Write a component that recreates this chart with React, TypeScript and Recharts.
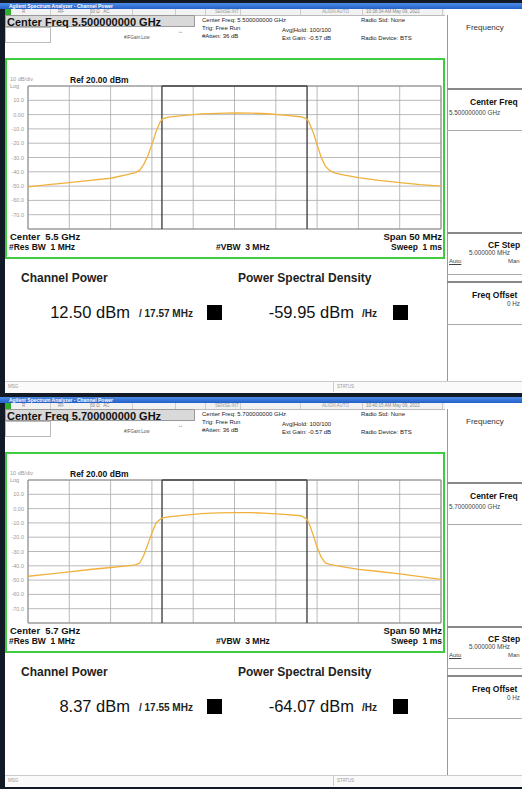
import React from 'react';
import { LineChart, Line, XAxis, YAxis, CartesianGrid, ReferenceLine, ReferenceArea } from 'recharts';

// frequency offset from center, MHz (span 50 MHz)
const freqOffsetMHz = [-25, -22.5, -20, -17.5, -15, -13, -12, -11.5, -11, -10.5, -10, -9.5, -9, -8.7, -8, -6, -4, -2, 0, 2, 4, 6, 8, 8.7, 9, 9.5, 10, 10.5, 11, 11.5, 12, 13, 15, 17.5, 20, 22.5, 25];

// trace levels, dBm
const trace5500 = [-50.5, -49, -47.5, -46, -44.5, -42, -40.5, -39, -35, -29, -21, -12, -5, -3, -1.8, -0.5, 0.5, 0.8, 1.2, 1.0, 0.6, -0.3, -1.5, -2.8, -5, -12, -21, -30, -36, -39, -40.5, -42, -44, -46, -47.5, -49, -50];
const trace5700 = [-47.3, -45.8, -44.2, -42.6, -41.2, -40, -39.3, -38.2, -33, -25, -17, -10, -7.5, -6.5, -5.8, -4.5, -3.5, -3, -2.8, -2.8, -3.3, -4, -5, -7, -10, -18, -27, -34, -38, -39, -39.6, -40.6, -42.5, -44, -45.6, -47.5, -49.5];

const freqTicks = [-25, -20, -15, -10, -5, 0, 5, 10, 15, 20, 25];
const levelTicks = [20, 10, 0, -10, -20, -30, -40, -50, -60, -70, -80];
const levelLabels = ['', '10.0', '0.00', '-10.0', '-20.0', '-30.0', '-40.0', '-50.0', '-60.0', '-70.0', ''];

const centerFreqs = ['5.500000000', '5.700000000'];
const centerShort = ['5.5 GHz', '5.7 GHz'];
const clockTimes = ['10:38:34 AM May 09, 2022', '10:40:15 AM May 09, 2022'];
const channelPower = ['12.50', '8.37'];
const channelBw = [17.57, 17.55];
const psdValues = ['-59.95', '-64.07'];

const FONT = '"Liberation Sans", Arial, sans-serif';

const T = ({ x, y, size, children, bold, color, right, w, style }: any) => (
  <div
    style={{
      position: 'absolute',
      left: right ? undefined : x,
      right: right !== undefined ? right : undefined,
      top: y,
      width: w,
      fontSize: size,
      fontWeight: bold ? 'bold' : 'normal',
      color: color || '#111',
      whiteSpace: 'nowrap',
      lineHeight: 1,
      ...style,
    }}
  >
    {children}
  </div>
);

const LevelTick = (props: any) => {
  const { x, y, payload } = props;
  const label = levelLabels[levelTicks.indexOf(payload.value)];
  if (!label) return <g />;
  return (
    <text x={x} y={y} dy={2} textAnchor="end" fontSize={5.5} fill="#9a9a9a" fontFamily={FONT}>
      {label}
    </text>
  );
};

function Screen({ idx, top, trace }: { idx: number; top: number; trace: number[] }) {
  const data = freqOffsetMHz.map((f, i) => ({ f, level: trace[i] }));
  const half = channelBw[idx] / 2;
  return (
    <div style={{ position: 'absolute', left: 0, top, width: 522, height: 394, overflow: 'hidden' }}>
      {/* title bar */}
      <div style={{ position: 'absolute', left: 0, top: 3, width: 522, height: 6, background: 'linear-gradient(#4d8ce6, #2260c9)' }} />
      <T x={9} y={3.5} size={5} bold color="#fff">Agilent Spectrum Analyzer - Channel Power</T>
      {/* main white area */}
      <div style={{ position: 'absolute', left: 5, top: 9, width: 517, height: 383, background: '#fff' }} />
      {/* status row */}
      <div style={{ position: 'absolute', left: 5, top: 9, width: 440, height: 6, background: '#f2f2f2', borderBottom: '1px solid #bbb' }} />
      <div style={{ position: 'absolute', left: 5, top: 9, width: 6, height: 6, background: '#2fae2f' }} />
      <T x={22} y={10} size={4.5} color="#888">R</T>
      <T x={58} y={10} size={4.5} color="#888">RF</T>
      <T x={90} y={10} size={4.5} color="#888">50 Ω&nbsp;&nbsp; AC</T>
      <T x={215} y={10} size={4.5} color="#999">SENSE:INT</T>
      <T x={322} y={10} size={4.5} color="#999">ALIGN AUTO</T>
      <T x={366} y={10} size={4.5} color="#888">{clockTimes[idx]}</T>
      {[50, 90, 132, 175, 205, 240, 300, 362, 442].map((sx) => (
        <div key={sx} style={{ position: 'absolute', left: sx, top: 9, width: 1, height: 6, background: '#ccc' }} />
      ))}
      {/* center freq box */}
      <div style={{ position: 'absolute', left: 5, top: 15, width: 190, height: 12, background: '#d9d9d9', border: '1px solid #999', boxSizing: 'border-box' }} />
      <T x={7} y={16.5} size={11} bold>{'Center Freq ' + centerFreqs[idx] + ' GHz'}</T>
      <div style={{ position: 'absolute', left: 5, top: 27, width: 46, height: 16, border: '1px solid #bbb', boxSizing: 'border-box' }} />
      <T x={124} y={36} size={4.5} color="#555">#IFGain:Low</T>
      <T x={178} y={29} size={5} color="#555">↔</T>
      <T x={202} y={17} size={6} color="#222">{'Center Freq: ' + centerFreqs[idx] + ' GHz'}</T>
      <T x={202} y={25} size={6} color="#222">Trig: Free Run</T>
      <T x={202} y={33} size={6} color="#222">#Atten: 36 dB</T>
      <T x={282} y={27} size={6} color="#222">Avg|Hold: 100/100</T>
      <T x={282} y={35} size={6} color="#222">Ext Gain: -0.57 dB</T>
      <T x={361} y={17} size={6} color="#222">Radio Std: None</T>
      <T x={361} y={35} size={6} color="#222">Radio Device: BTS</T>

      {/* right soft-key panel */}
      <div style={{ position: 'absolute', left: 447, top: 15, width: 80, height: 366, borderLeft: '1px solid #999', borderBottom: '1px solid #999' }} />
      <T x={466} y={24} size={8} color="#333">Frequency</T>
      <div style={{ position: 'absolute', left: 447, top: 88, width: 80, height: 40, borderTop: '2px solid #888', borderBottom: '1px solid #aaa' }} />
      <T x={470} y={98} size={8.5} bold>Center Freq</T>
      <T x={449} y={110} size={6.3} color="#444">{centerFreqs[idx] + ' GHz'}</T>
      <div style={{ position: 'absolute', left: 447, top: 232, width: 80, height: 40, borderTop: '2px solid #888', borderBottom: '1px solid #aaa' }} />
      <T x={488} y={241} size={8.5} bold>CF Step</T>
      <T x={469} y={250} size={6.3} color="#444">5.000000 MHz</T>
      <T x={449} y={258} size={6} color="#444" style={{ textDecoration: 'underline' }}>Auto</T>
      <T x={508} y={258} size={6} color="#444">Man</T>
      <div style={{ position: 'absolute', left: 447, top: 281, width: 80, height: 41, borderTop: '2px solid #888', borderBottom: '1px solid #aaa' }} />
      <T x={472} y={291} size={8.5} bold>Freq Offset</T>
      <T x={507} y={301} size={6.3} color="#444">0 Hz</T>

      {/* plot panel */}
      <div style={{ position: 'absolute', left: 5, top: 58, width: 440, height: 201, border: '2px solid #3fcc3f', boxSizing: 'border-box' }} />
      <T x={10} y={77} size={5.5} color="#999">10 dB/div</T>
      <T x={70} y={76} size={8.5} bold>Ref 20.00 dBm</T>
      <T x={10} y={84} size={5.5} color="#999">Log</T>
      <div style={{ position: 'absolute', left: 0, top: 80 }}>
        <LineChart width={444} height={155} data={data} margin={{ top: 6, right: 3, bottom: 6, left: 0 }}>
          <CartesianGrid stroke="#a8a8a8" strokeWidth={0.8} />
          <XAxis dataKey="f" type="number" domain={[-25, 25]} ticks={freqTicks} interval={0} hide allowDataOverflow />
          <YAxis type="number" domain={[-80, 20]} ticks={levelTicks} interval={0} width={28} axisLine={false} tickLine={false} tickSize={2} tickMargin={2} tick={<LevelTick />} allowDataOverflow />
          <ReferenceArea x1={-25} x2={25} y1={-80} y2={20} fill="none" stroke="#8c8c8c" strokeWidth={1} />
          <ReferenceLine x={-half} stroke="#444" strokeWidth={1.4} />
          <ReferenceLine x={half} stroke="#444" strokeWidth={1.4} />
          <ReferenceLine segment={[{ x: -half, y: 20 }, { x: half, y: 20 }]} stroke="#444" strokeWidth={1.4} />
          <Line type="linear" dataKey="level" stroke="#f0b13c" strokeWidth={1.3} dot={false} isAnimationActive={false} />
        </LineChart>
      </div>
      <T x={10} y={232} size={9.5} bold>{'Center\u00a0 ' + centerShort[idx]}</T>
      <T right={80} y={232} size={9.5} bold>Span 50 MHz</T>
      <T x={9} y={243} size={8.5} bold>#Res BW&nbsp; 1 MHz</T>
      <T x={216} y={243} size={8.5} bold>#VBW&nbsp; 3 MHz</T>
      <T right={80} y={243} size={8.5} bold>Sweep&nbsp; 1 ms</T>

      {/* results */}
      <T x={21} y={272} size={12} bold color="#222">Channel Power</T>
      <T x={238} y={272} size={12} bold color="#222">Power Spectral Density</T>
      <T x={20} w={110} y={304} size={16.5} color="#111" style={{ textAlign: 'right' }}>{channelPower[idx] + ' dBm'}</T>
      <T x={139} y={309} size={10} bold color="#222">{'/ ' + channelBw[idx].toFixed(2) + ' MHz'}</T>
      <div style={{ position: 'absolute', left: 207, top: 305, width: 15, height: 15, background: '#000' }} />
      <T x={240} w={114} y={304} size={16.5} color="#111" style={{ textAlign: 'right' }}>{psdValues[idx] + ' dBm'}</T>
      <T x={362} y={309} size={10} bold color="#222">/Hz</T>
      <div style={{ position: 'absolute', left: 393, top: 305, width: 15, height: 15, background: '#000' }} />

      {/* message bar */}
      <div style={{ position: 'absolute', left: 5, top: 381, width: 517, height: 11, background: '#fafafa', borderTop: '1px solid #ccc' }} />
      <T x={8} y={385} size={4.5} color="#999">MSG</T>
      <div style={{ position: 'absolute', left: 333, top: 381, width: 1, height: 11, background: '#ccc' }} />
      <T x={337} y={385} size={4.5} color="#999">STATUS</T>
    </div>
  );
}

export default function App() {
  return (
    <div style={{ position: 'absolute', left: 0, top: 0, width: 522, height: 789, background: '#121a26', overflow: 'hidden', fontFamily: FONT }}>
      <Screen idx={0} top={0} trace={trace5500} />
      <Screen idx={1} top={394} trace={trace5700} />
    </div>
  );
}
